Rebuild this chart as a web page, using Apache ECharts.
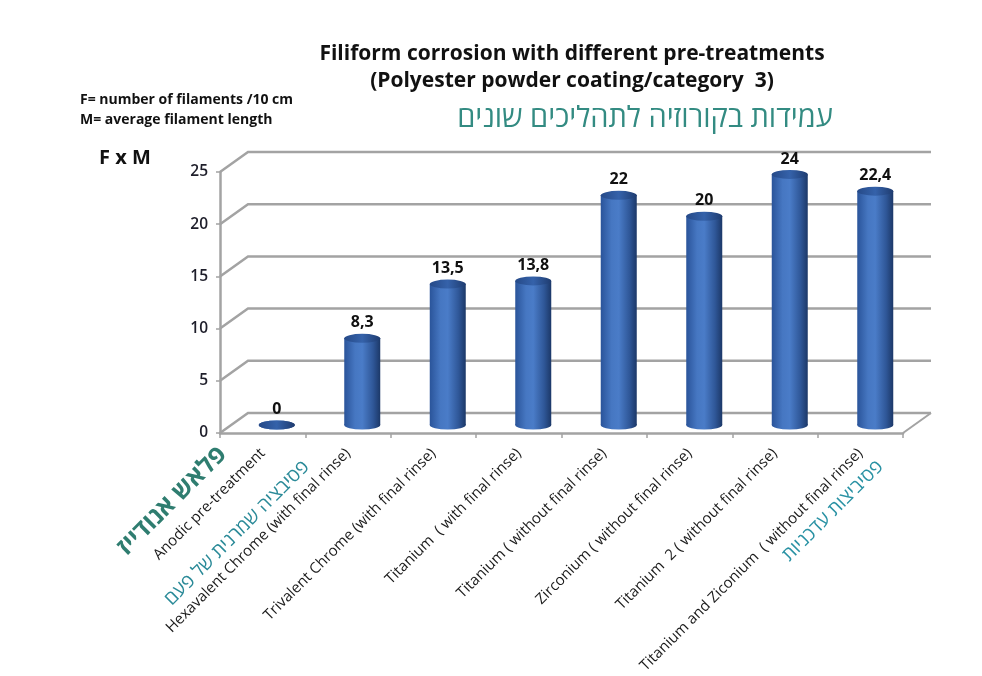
<!DOCTYPE html>
<html>
<head>
<meta charset="utf-8">
<script src="https://cdn.jsdelivr.net/npm/echarts@6/dist/echarts.min.js"></script>
<style>
html,body{margin:0;padding:0;background:#fff;}
#c{width:982px;height:676px;}
</style>
</head>
<body>
<div id="c"></div>
<script>
const categories = [
  "Anodic pre-treatment",
  "Hexavalent Chrome (with final rinse)",
  "Trivalent Chrome (with final rinse)",
  "Titanium  ( with final rinse)",
  "Titanium ( without final rinse)",
  "Zirconium ( without final rinse)",
  "Titanium  2 ( without final rinse)",
  "Titanium and Ziconium  ( without final rinse)"
];
const values = [0, 8.3, 13.5, 13.8, 22, 20, 24, 22.4];
const yTicks = [0, 5, 10, 15, 20, 25];

const chart = echarts.init(document.getElementById('c'), null, {renderer: 'canvas'});
const DX = 28, DY = -20;
const gridColor = '#a3a3a3';
const fmt = v => String(v).replace('.', ',');

const bodyGrad = new echarts.graphic.LinearGradient(0, 0, 1, 0, [
  {offset: 0, color: '#2a549a'},
  {offset: 0.3, color: '#4677c2'},
  {offset: 0.5, color: '#4a7cc8'},
  {offset: 0.8, color: '#2f5798'},
  {offset: 1, color: '#1c3868'}
]);
const capGrad = new echarts.graphic.LinearGradient(0, 0, 1, 0, [
  {offset: 0, color: '#264a88'},
  {offset: 0.5, color: '#3562aa'},
  {offset: 1, color: '#1f3c70'}
]);

const option = {
  backgroundColor: '#ffffff',
  animation: false,
  title: {
    text: 'Filiform corrosion with different pre-treatments\n(Polyester powder coating/category  3)',
    left: 567, top: 36, textAlign: 'center',
    textStyle: {fontFamily: 'Open Sans', fontWeight: 'bold', fontSize: 21, color: '#111', lineHeight: 27}
  },
  grid: [
    {left: 220, right: 79, top: 172, bottom: 243},
    {left: 234, right: 64, top: 164, bottom: 251}
  ],
  xAxis: [
    {
      type: 'category', gridIndex: 0, data: categories,
      axisLine: {lineStyle: {color: gridColor, width: 2.5}},
      axisTick: {show: true, length: 5, lineStyle: {color: gridColor, width: 1.5}},
      axisLabel: {rotate: 45, interval: 0, margin: 18, fontFamily: 'Open Sans', fontSize: 15, color: '#1a1a1a'}
    },
    {type: 'category', gridIndex: 1, data: categories, show: false}
  ],
  yAxis: [
    {
      type: 'value', gridIndex: 0, min: 0, max: 25, interval: 5,
      axisLine: {show: true, lineStyle: {color: gridColor, width: 2.5}},
      axisTick: {show: true, length: 4, lineStyle: {color: gridColor, width: 1.5}},
      splitLine: {show: false},
      axisLabel: {margin: 12, fontFamily: 'Open Sans', fontWeight: 600, fontSize: 15.5, color: '#1e1e2a'}
    },
    {type: 'value', gridIndex: 1, min: 0, max: 25, interval: 5, show: false, splitLine: {show: false}}
  ],
  series: [
    {
      type: 'custom', xAxisIndex: 0, yAxisIndex: 0, z: 1, silent: true,
      data: yTicks.map(v => [0, v]),
      renderItem: function (params, api) {
        const cs = params.coordSys;
        const y = api.coord([0, api.value(1)])[1];
        const x0 = cs.x, xR = cs.x + cs.width;
        const children = [{
          type: 'polyline',
          shape: {points: [[x0, y], [x0 + DX, y + DY], [xR + DX, y + DY]]},
          style: {stroke: gridColor, lineWidth: 2.5, fill: null}
        }];
        if (api.value(1) === 0) {
          children.push({
            type: 'line',
            shape: {x1: xR, y1: y, x2: xR + DX, y2: y + DY},
            style: {stroke: gridColor, lineWidth: 2}
          });
        }
        return {type: 'group', children: children};
      }
    },
    {
      type: 'bar', xAxisIndex: 1, yAxisIndex: 1, z: 3,
      data: values, barWidth: 36,
      itemStyle: {color: bodyGrad}
    },
    {
      type: 'pictorialBar', xAxisIndex: 1, yAxisIndex: 1, z: 2,
      data: values, symbol: 'circle', symbolSize: [36, 9],
      symbolOffset: [0, '50%'], symbolPosition: 'start',
      itemStyle: {color: bodyGrad}
    },
    {
      type: 'pictorialBar', xAxisIndex: 1, yAxisIndex: 1, z: 4,
      data: values, symbol: 'circle', symbolSize: [36, 9],
      symbolOffset: [0, '-50%'], symbolPosition: 'end',
      itemStyle: {color: capGrad},
      label: {
        show: true, position: 'top', distance: 3,
        formatter: p => fmt(p.value),
        fontFamily: 'Open Sans', fontWeight: 'bold', fontSize: 16, color: '#111'
      }
    }
  ],
  graphic: [
    {type: 'text', left: 80, top: 90, style: {text: 'F= number of filaments /10 cm\nM= average filament length', fontFamily: 'Open Sans', fontWeight: 'bold', fontSize: 14, lineHeight: 20, fill: '#111'}},
    {type: 'text', left: 99, top: 148, style: {text: 'F x M', fontFamily: 'Open Sans', fontWeight: 'bold', fontSize: 20, fill: '#111'}},
    {type: 'text', x: 645, y: 119, style: {text: 'עמידות בקורוזיה לתהליכים שונים', align: 'center', verticalAlign: 'middle', fontFamily: 'Open Sans, DejaVu Sans', fontSize: 29, fill: '#338b82'}},
    {type: 'text', x: 172, y: 501, rotation: Math.PI / 4, style: {text: 'פלאש אנודייז', align: 'center', verticalAlign: 'middle', fontFamily: 'Open Sans, DejaVu Sans', fontWeight: 'bold', fontSize: 25, fill: '#2f7d70'}},
    {type: 'text', x: 237, y: 533, rotation: Math.PI / 4, style: {text: 'פסיבציה שמרנית של פעם', align: 'center', verticalAlign: 'middle', fontFamily: 'Open Sans, DejaVu Sans', fontSize: 19, fill: '#2a8a98'}},
    {type: 'text', x: 833, y: 511, rotation: Math.PI / 4, style: {text: 'פסיביצות עדכניות', align: 'center', verticalAlign: 'middle', fontFamily: 'Open Sans, DejaVu Sans', fontSize: 19, fill: '#2a92a4'}}
  ]
};
chart.setOption(option);
</script>
</body>
</html>
